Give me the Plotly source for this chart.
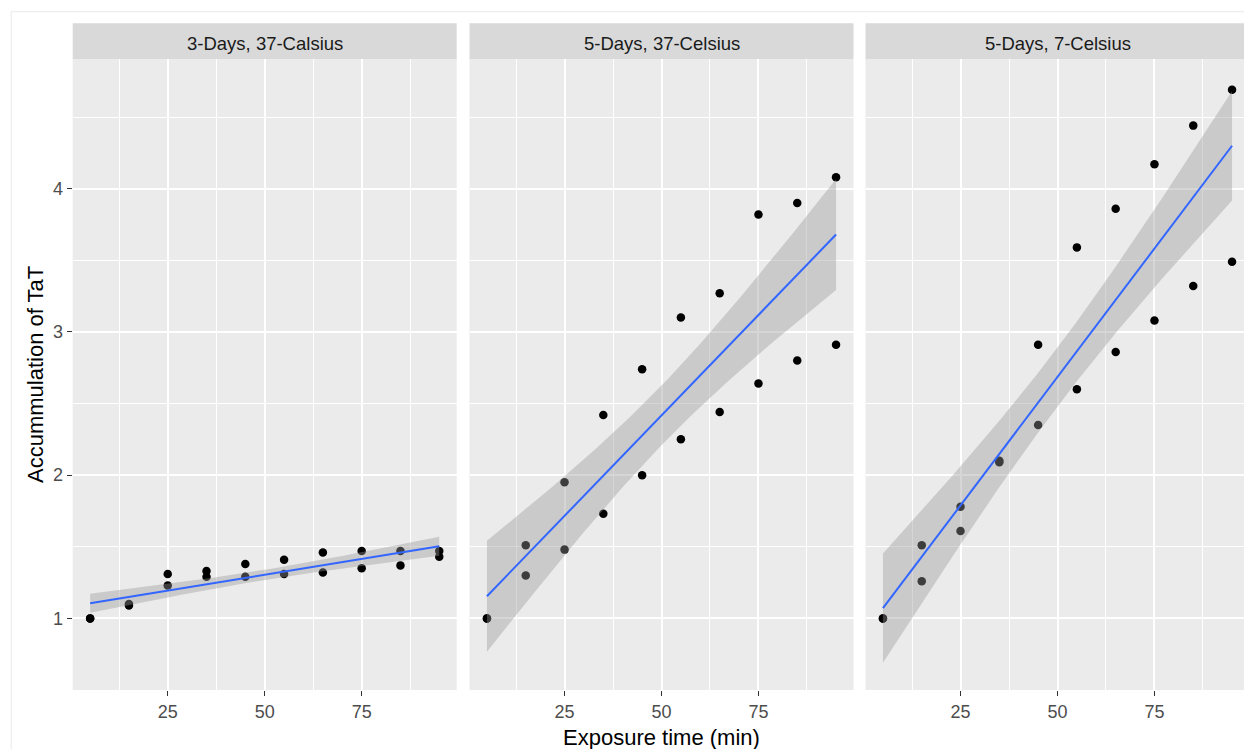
import numpy as np
import plotly.graph_objects as go

# ---------------- data ----------------
panels = ["3-Days, 37-Calsius", "5-Days, 37-Celsius", "5-Days, 7-Celsius"]
exposure = [5, 5, 15, 15, 25, 25, 35, 35, 45, 45, 55, 55, 65, 65, 75, 75, 85, 85, 95, 95]
tat_3d_37c = [1.00, 1.00, 1.09, 1.10, 1.31, 1.23, 1.33, 1.29, 1.38, 1.29,
              1.41, 1.31, 1.46, 1.32, 1.47, 1.35, 1.47, 1.37, 1.47, 1.43]
tat_5d_37c = [1.00, 1.00, 1.51, 1.30, 1.95, 1.48, 2.42, 1.73, 2.74, 2.00,
              3.10, 2.25, 3.27, 2.44, 3.82, 2.64, 3.90, 2.80, 4.08, 2.91]
tat_5d_7c = [1.00, 1.00, 1.51, 1.26, 1.78, 1.61, 2.10, 2.09, 2.91, 2.35,
             3.59, 2.60, 3.86, 2.86, 4.17, 3.08, 4.44, 3.32, 4.69, 3.49]
x_tick_step = 25
y_tick_step = 1
x_title = "Exposure time (min)"
y_title = "Accummulation of TaT"

series = [tat_3d_37c, tat_5d_37c, tat_5d_7c]

# ---------------- helpers ----------------
W, H = 1244, 749
FONT = "Liberation Sans, Arial, sans-serif"
T95 = 2.100922  # Student t, 0.975 quantile, df = 18 (n = 20)


def lm_ci(x, y, n_grid=80):
    x = np.asarray(x, float)
    y = np.asarray(y, float)
    n = len(x)
    xb = x.mean()
    sxx = ((x - xb) ** 2).sum()
    b = ((x - xb) * (y - y.mean())).sum() / sxx
    a = y.mean() - b * xb
    s = np.sqrt(((y - (a + b * x)) ** 2).sum() / (n - 2))
    g = np.linspace(x.min(), x.max(), n_grid)
    fit = a + b * g
    se = s * np.sqrt(1.0 / n + (g - xb) ** 2 / sxx)
    return g, fit, fit - T95 * se, fit + T95 * se


def px_x(p):
    return p / W


def px_y(p):
    return 1 - p / H


# panel geometry (pixels)
panel_left = [72.7, 469.5, 865.5]
panel_w = 384.0
panel_top, panel_bot = 59.3, 690.0
strip_top = 23.3
x_full = [0.5, 99.5]
y_range = [0.50, 4.903]

fig = go.Figure()

for i, (name, vals) in enumerate(zip(panels, series)):
    ax = "" if i == 0 else str(i + 1)
    xa, ya = "x" + ax, "y" + ax
    g, fit, lo, hi = lm_ci(exposure, vals)
    fig.add_trace(go.Scatter(x=exposure, y=vals, mode="markers", xaxis=xa, yaxis=ya,
                             marker=dict(color="black", size=8.5, line=dict(width=0)),
                             showlegend=False, hoverinfo="x+y"))
    fig.add_trace(go.Scatter(x=np.concatenate([g, g[::-1]]), y=np.concatenate([hi, lo[::-1]]),
                             mode="lines", fill="toself", fillcolor="rgba(153,153,153,0.4)",
                             line=dict(width=0), xaxis=xa, yaxis=ya,
                             showlegend=False, hoverinfo="skip"))
    fig.add_trace(go.Scatter(x=g, y=fit, mode="lines", line=dict(color="#3366FF", width=2),
                             xaxis=xa, yaxis=ya, showlegend=False, hoverinfo="skip"))

layout = dict(
    width=W, height=H,
    margin=dict(l=0, r=0, t=0, b=0),
    paper_bgcolor="white",
    plot_bgcolor="#EBEBEB",
    template=None,
    showlegend=False,
    font=dict(family=FONT),
)

shapes = []
annotations = []
for i, name in enumerate(panels):
    ax = "" if i == 0 else str(i + 1)
    left = panel_left[i]
    right = min(left + panel_w, W)
    xr = [x_full[0], x_full[0] + (right - left) / panel_w * (x_full[1] - x_full[0])]
    layout["xaxis" + ax] = dict(
        domain=[px_x(left), px_x(right)], anchor="y" + ax, range=xr,
        tickmode="linear", tick0=0, dtick=x_tick_step,
        showgrid=True, gridcolor="white", gridwidth=1.6,
        minor=dict(showgrid=True, gridcolor="white", gridwidth=0.8, dtick=x_tick_step / 2, tick0=0),
        zeroline=False, showline=False,
        ticks="outside", ticklen=5, tickwidth=1.1, tickcolor="#333333",
        tickfont=dict(family=FONT, size=18, color="#4D4D4D"),
        fixedrange=True,
    )
    layout["yaxis" + ax] = dict(
        domain=[px_y(panel_bot), px_y(panel_top)], anchor="x" + ax, range=y_range,
        tickmode="linear", tick0=0, dtick=y_tick_step,
        showgrid=True, gridcolor="white", gridwidth=1.6,
        minor=dict(showgrid=True, gridcolor="white", gridwidth=0.8, dtick=y_tick_step / 2, tick0=0),
        zeroline=False, showline=False,
        ticks="outside" if i == 0 else "", ticklen=5, tickwidth=1.1, tickcolor="#333333",
        showticklabels=(i == 0),
        tickfont=dict(family=FONT, size=18, color="#4D4D4D"),
        fixedrange=True,
    )
    shapes.append(dict(type="rect", xref="paper", yref="paper",
                       x0=px_x(left), x1=px_x(right), y0=px_y(panel_top), y1=px_y(strip_top),
                       fillcolor="#D9D9D9", line=dict(width=0), layer="below"))
    annotations.append(dict(xref="paper", yref="paper", x=px_x(left + panel_w / 2),
                            y=px_y((strip_top + panel_top) / 2 + 2.5), text=name, showarrow=False,
                            xanchor="center", yanchor="middle",
                            font=dict(family=FONT, size=18.5, color="#1A1A1A")))

# faint outer frame of the original image
shapes.append(dict(type="rect", xref="paper", yref="paper",
                   x0=px_x(11.2), x1=1.05, y0=-0.05, y1=px_y(11.7),
                   fillcolor="rgba(0,0,0,0)", line=dict(color="#E9E9E9", width=1), layer="below"))

annotations.append(dict(xref="paper", yref="paper", x=px_x(661.5), y=px_y(737.5),
                        text=x_title, showarrow=False, xanchor="center", yanchor="middle",
                        font=dict(family=FONT, size=22, color="#000000")))
annotations.append(dict(xref="paper", yref="paper", x=px_x(35), y=px_y(375),
                        text=y_title, showarrow=False, textangle=-90,
                        xanchor="center", yanchor="middle",
                        font=dict(family=FONT, size=22, color="#000000")))

layout["shapes"] = shapes
layout["annotations"] = annotations
fig.update_layout(**layout)

fig.write_html("out.html", config=dict(displayModeBar=False),
               post_script="document.body.style.margin='0';document.body.style.overflow='hidden';")
